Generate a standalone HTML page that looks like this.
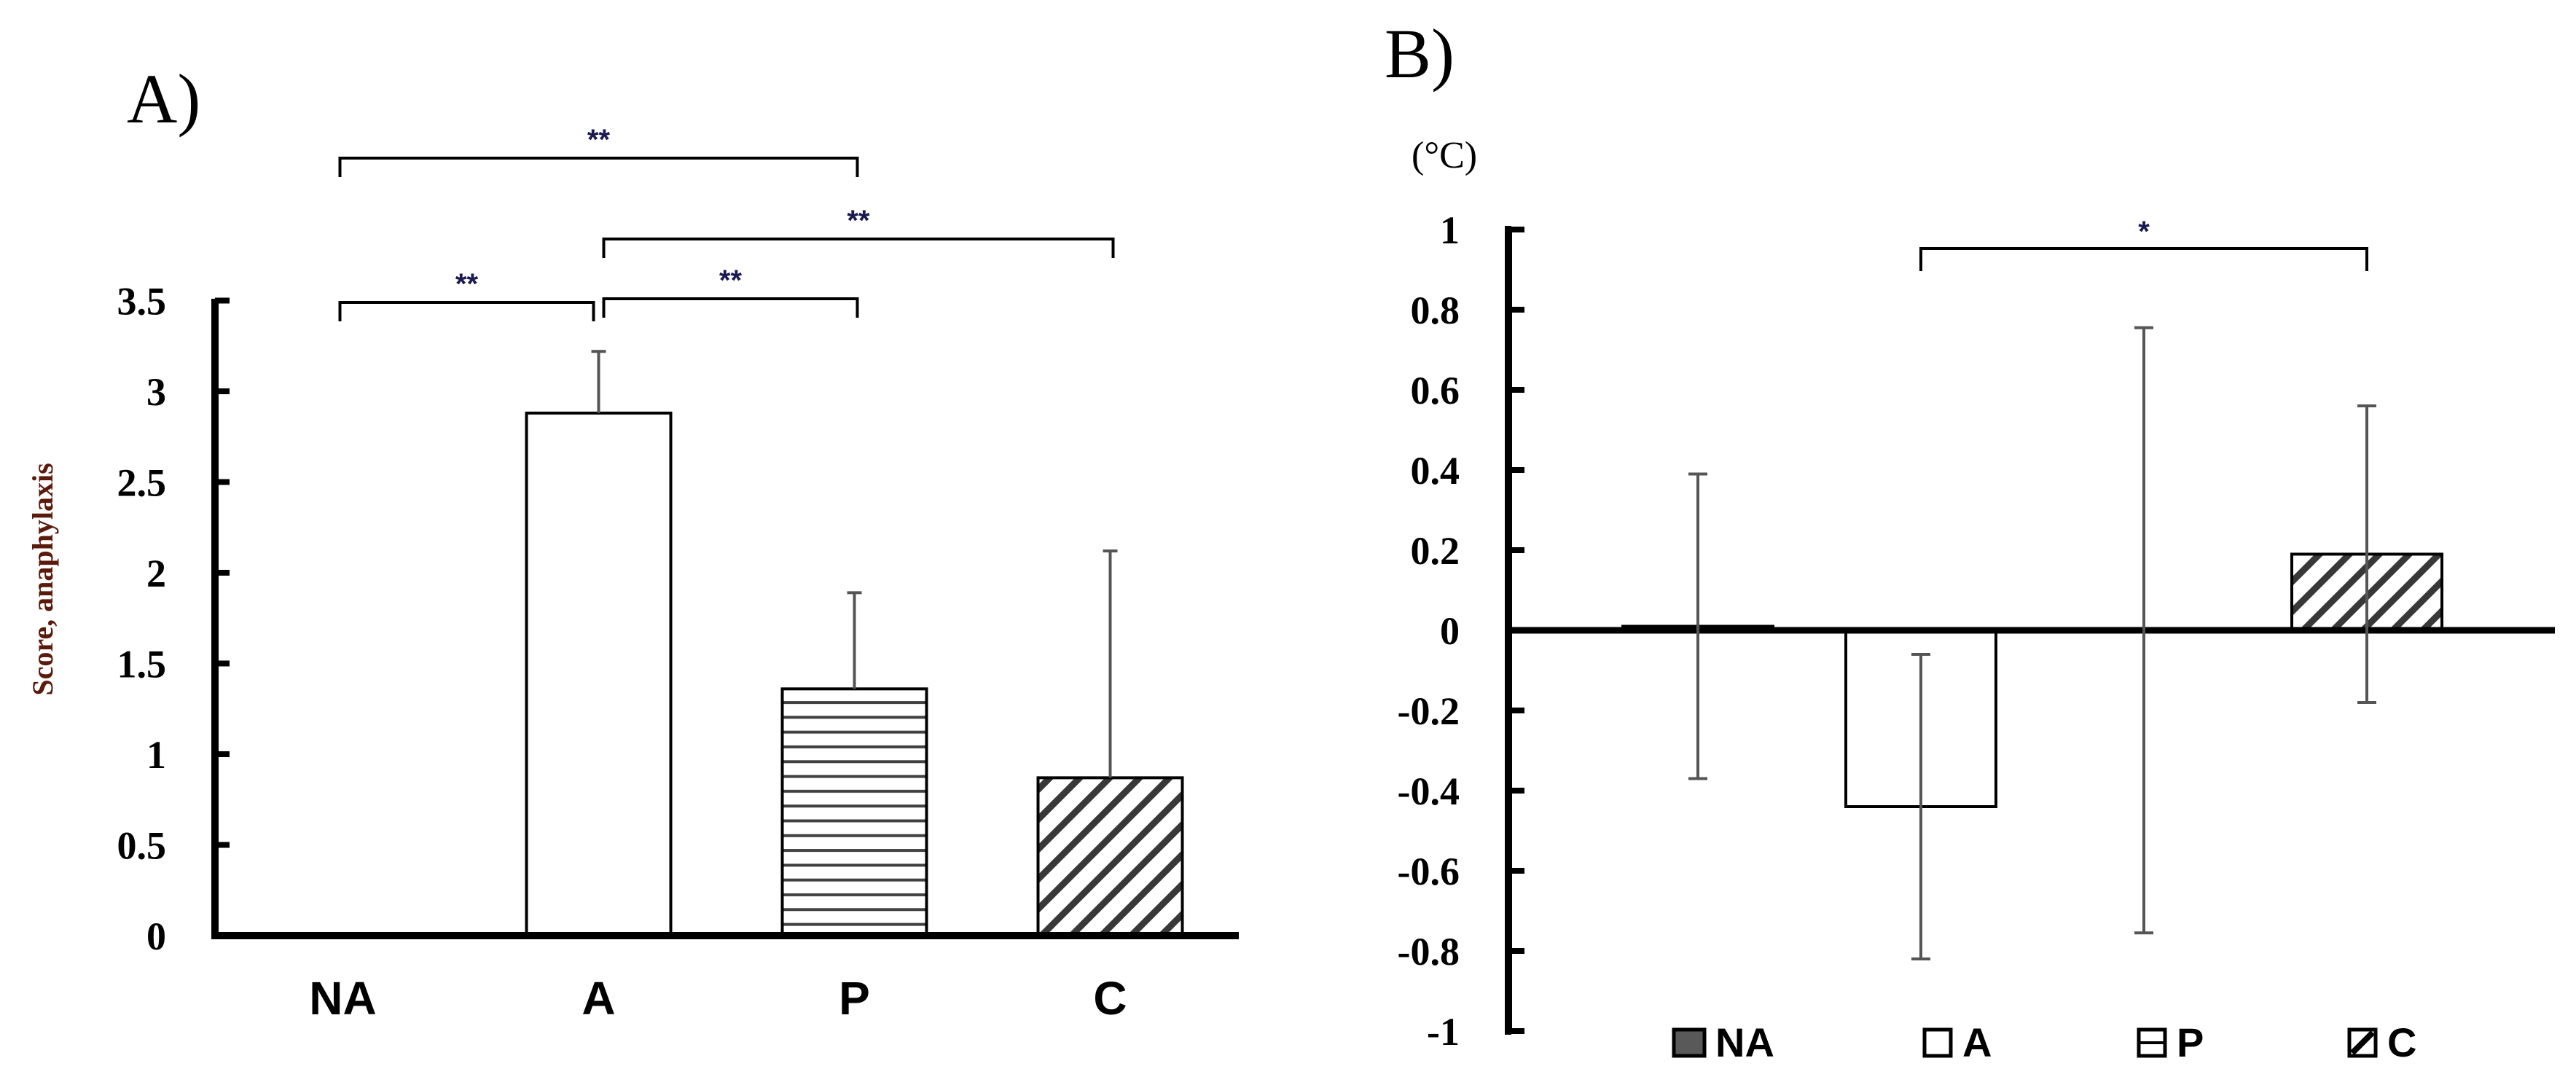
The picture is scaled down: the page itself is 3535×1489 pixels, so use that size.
<!DOCTYPE html>
<html><head><meta charset="utf-8"><style>
html,body{margin:0;padding:0;background:#fff;}
svg{display:block;}
.serif{font-family:"Liberation Serif",serif;}
.sans{font-family:"Liberation Sans",sans-serif;}
</style></head><body>
<svg id="fig" xmlns="http://www.w3.org/2000/svg" width="3535" height="1489" viewBox="0 0 3535 1489">
<defs>
<pattern id="hz" patternUnits="userSpaceOnUse" width="20" height="20.3">
<rect x="0" y="8" width="20" height="4" fill="#404040"/>
</pattern>
<pattern id="dg" patternUnits="userSpaceOnUse" width="29" height="29" patternTransform="rotate(45)">
<rect x="0" y="0" width="9" height="29" fill="#383838"/>
</pattern>
</defs>
<g id="chartA"></g>
<g id="chartB"></g>
</svg>
<script>
// Panel A data
const catsA = ["NA","A","P","C"];
const valsA = [0, 2.88, 1.36, 0.87];
const errA = [0, 0.34, 0.53, 1.25];
const ticksA = [0,0.5,1,1.5,2,2.5,3,3.5];
const tickLabelsA = ["0","0.5","1","1.5","2","2.5","3","3.5"];
const sigA = [[0,1,"**"],[1,2,"**"],[1,3,"**"],[0,2,"**"]];
// Panel B data
const catsB = ["NA","A","P","C"];
const valsB = [0.01, -0.44, 0, 0.19];
const errB = [0.38, 0.38, 0.755, 0.37];
const ticksB = [1,0.8,0.6,0.4,0.2,0,-0.2,-0.4,-0.6,-0.8,-1];
const tickLabelsB = ["1","0.8","0.6","0.4","0.2","0","-0.2","-0.4","-0.6","-0.8","-1"];
const sigB = [[1,3,"*"]];

const NS="http://www.w3.org/2000/svg";
function mk(parent,tag,attrs,text){const e=document.createElementNS(NS,tag);for(const k in attrs)e.setAttribute(k,attrs[k]);if(text!==undefined)e.textContent=text;parent.appendChild(e);return e;}
const fills=["#595959","#fff","url(#hz)","url(#dg)"];

// ---------- Panel A ----------
(function(){
const g=document.getElementById('chartA');
const x0=295,xEnd=1700,band=351;
const y=v=>1284-v*249;
const cx=i=>x0+band*(i+0.5);
const bw=198;
let t=mk(g,'text',{x:174,y:168,'font-size':96,class:'serif'},'A)');


t=mk(g,'text',{x:0,y:0,'font-size':40,'font-weight':'bold',fill:'#5a1a0c',class:'serif','text-anchor':'middle',transform:'translate(72,795) rotate(-90)'},'Score, anaphylaxis');


ticksA.forEach((v,i)=>{
 let l=mk(g,'line',{x1:x0,x2:x0+20,y1:y(v),y2:y(v),stroke:'#000','stroke-width':8});
 
 
 let tx=mk(g,'text',{x:228,y:y(v)+19,'font-size':54,'font-weight':'bold','text-anchor':'end',class:'serif'},tickLabelsA[i]);
 
 
});
catsA.forEach((c,i)=>{
 if(valsA[i]>0){
  let r=mk(g,'rect',{x:cx(i)-bw/2,y:y(valsA[i]),width:bw,height:y(0)-y(valsA[i]),fill:fills[i],stroke:'#000','stroke-width':4});
  
  
  let e=mk(g,'path',{d:`M${cx(i)} ${y(valsA[i])} V${y(valsA[i]+errA[i])} M${cx(i)-10} ${y(valsA[i]+errA[i])} H${cx(i)+10}`,stroke:'#555','stroke-width':4,fill:'none'});
  
  
 }
 let tx=mk(g,'text',{x:cx(i),y:1392,'font-size':64,'font-weight':'bold','text-anchor':'middle',class:'sans'},c);
 
 
});
let ax=mk(g,'path',{d:`M${x0} 410 V${y(0)} H${xEnd}`,stroke:'#000','stroke-width':10,fill:'none'});


const lev=[415,410,328,217];
sigA.forEach((s,k)=>{
 const a=cx(s[0])+(s[0]===1?7:-4),b=cx(s[1])+(s[1]===1?-7:4),yy=lev[k];
 let p=mk(g,'path',{d:`M${a} ${yy+26} V${yy} H${b} V${yy+26}`,stroke:'#000','stroke-width':4,fill:'none'});
 
 
 let st=mk(g,'text',{x:(a+b)/2,y:yy-12,'font-size':40,'font-weight':'bold','text-anchor':'middle',fill:'#1a1a50',class:'sans'},s[2]);
 
 
});
})();

// ---------- Panel B ----------
(function(){
const g=document.getElementById('chartB');
const x0=2070,xEnd=3506;
const y=v=>865-v*550;
const cx=i=>2330+i*306;
const bw=206;
let t=mk(g,'text',{x:1900,y:106,'font-size':96,class:'serif'},'B)');


t=mk(g,'text',{x:1937,y:230,'font-size':52,class:'serif'},'(°C)');


ticksB.forEach((v,i)=>{
 let l=mk(g,'line',{x1:x0,x2:x0+22,y1:y(v),y2:y(v),stroke:'#000','stroke-width':8});
 
 
 let tx=mk(g,'text',{x:2003,y:y(v)+19,'font-size':54,'font-weight':'bold','text-anchor':'end',class:'serif'},tickLabelsB[i]);
 
 
});
catsB.forEach((c,i)=>{
 const v=valsB[i];
 if(v!==0){
  const top=Math.min(y(v),y(0)),h=Math.max(Math.abs(y(v)-y(0)),4);
  let r=mk(g,'rect',{x:cx(i)-bw/2,y:v>0?y(0)-h:top,width:bw,height:h,fill:fills[i],stroke:'#000','stroke-width':4});
  
  
 }
});
let ax=mk(g,'path',{d:`M${x0+4} ${y(1)} H${x0} V${y(-1)} H${x0+4}`,stroke:'#000','stroke-width':10,fill:'none'});


let zl=mk(g,'line',{x1:x0,x2:xEnd,y1:y(0),y2:y(0),stroke:'#000','stroke-width':9});


catsB.forEach((c,i)=>{
 const hi=y(valsB[i]+errB[i]),lo=y(valsB[i]-errB[i]),x=cx(i);
 let e=mk(g,'path',{d:`M${x} ${hi} V${lo} M${x-13} ${hi} H${x+13} M${x-13} ${lo} H${x+13}`,stroke:'#555','stroke-width':4,fill:'none'});
 
 
});
sigB.forEach(s=>{
 const a=cx(s[0]),b=cx(s[1]),yy=341;
 let p=mk(g,'path',{d:`M${a} ${yy+31} V${yy} H${b} V${yy+31}`,stroke:'#000','stroke-width':4,fill:'none'});
 
 
 let st=mk(g,'text',{x:(a+b)/2,y:yy-10,'font-size':40,'font-weight':'bold','text-anchor':'middle',fill:'#1a1a50',class:'sans'},s[2]);
 
 
});
// legend
const legX=[2297,2641,2935,3224];
const legFill=["#595959","#fff","hz","dg"];
catsB.forEach((c,i)=>{
 const lg=mk(g,'g',{});
 
 
 const X=legX[i];
 mk(lg,'rect',{x:X,y:1413,width:i===0?42:36,height:36,fill:i===3?'#fff':(i===2?'#fff':legFill[i]),stroke:'#000','stroke-width':5});
 if(i===2) mk(lg,'line',{x1:X,x2:X+36,y1:1431,y2:1431,stroke:'#000','stroke-width':4});
 if(i===3){ mk(lg,'line',{x1:X+4,x2:X+32,y1:1445,y2:1417,stroke:'#000','stroke-width':8}); }
 mk(lg,'text',{x:X+(i===0?57:52),y:1450,'font-size':56,'font-weight':'bold',class:'sans'},c);
});
})();
</script>
</body></html>
